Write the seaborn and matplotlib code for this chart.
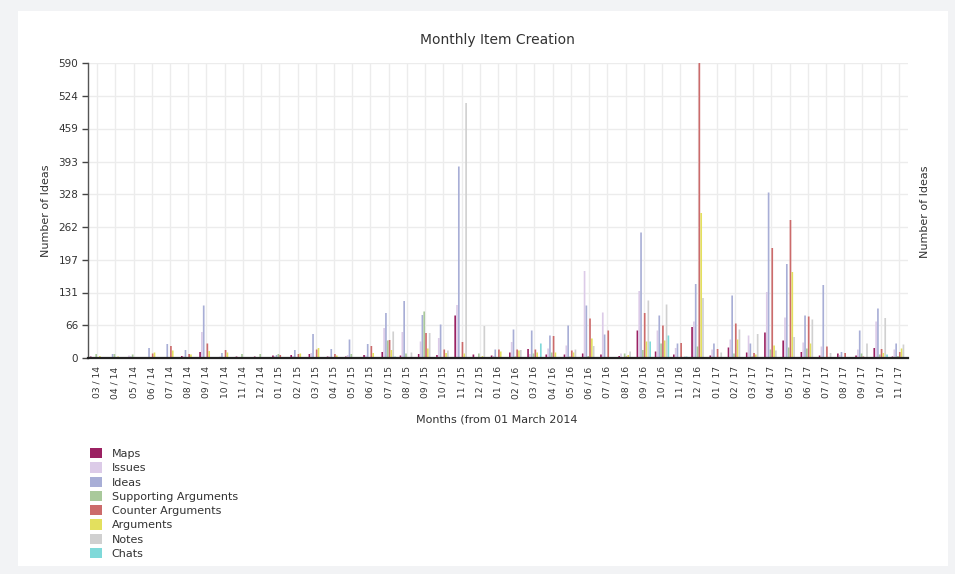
import matplotlib
matplotlib.use("Agg")
import matplotlib.pyplot as plt
from matplotlib.patches import Rectangle, Patch
import numpy as np
import pandas as pd
import seaborn as sns

months = ['03 / 14', '04 / 14', '05 / 14', '06 / 14', '07 / 14', '08 / 14', '09 / 14', '10 / 14',
          '11 / 14', '12 / 14', '01 / 15', '02 / 15', '03 / 15', '04 / 15', '05 / 15', '06 / 15',
          '07 / 15', '08 / 15', '09 / 15', '10 / 15', '11 / 15', '12 / 15', '01 / 16', '02 / 16',
          '03 / 16', '04 / 16', '05 / 16', '06 / 16', '07 / 16', '08 / 16', '09 / 16', '10 / 16',
          '11 / 16', '12 / 16', '01 / 17', '02 / 17', '03 / 17', '04 / 17', '05 / 17', '06 / 17',
          '07 / 17', '08 / 17', '09 / 17', '10 / 17', '11 / 17']

maps = [3, 2, 2, 2, 2, 4, 12, 2, 3, 3, 5, 6, 8, 3, 3, 6, 12, 5, 8, 6, 85, 7, 5, 11, 18, 7, 7, 9, 7,
        4, 55, 13, 7, 62, 5, 21, 11, 51, 35, 12, 5, 9, 5, 20, 3]
issues = [1, 2, 5, 1, 2, 3, 52, 3, 0, 0, 4, 4, 10, 3, 6, 5, 60, 52, 33, 40, 106, 2, 4, 32, 8, 19,
          25, 174, 91, 9, 134, 55, 20, 73, 17, 37, 45, 132, 81, 31, 23, 6, 17, 73, 17]
ideas = [2, 8, 3, 20, 28, 16, 105, 10, 1, 1, 6, 16, 48, 18, 37, 28, 90, 114, 86, 67, 383, 2, 17,
         57, 55, 45, 65, 105, 47, 2, 251, 85, 29, 148, 29, 125, 29, 331, 188, 85, 146, 12, 55, 99, 29]
supporting = [8, 8, 7, 0, 0, 0, 0, 0, 8, 8, 8, 0, 0, 0, 8, 0, 35, 9, 93, 0, 2, 9, 0, 3, 9, 11, 3,
              4, 0, 9, 16, 29, 2, 23, 0, 9, 3, 17, 21, 19, 2, 0, 9, 7, 4]
counter = [1, 1, 1, 9, 24, 8, 29, 16, 0, 0, 6, 8, 17, 8, 2, 24, 36, 2, 50, 17, 32, 1, 17, 17, 17,
           44, 15, 79, 55, 3, 90, 65, 30, 590, 18, 69, 10, 220, 276, 83, 23, 10, 3, 18, 12]
arguments = [4, 3, 1, 11, 15, 7, 14, 11, 0, 0, 2, 9, 20, 5, 2, 10, 16, 2, 19, 10, 9, 4, 13, 15, 11,
             11, 11, 39, 2, 6, 33, 35, 2, 290, 2, 37, 7, 25, 172, 29, 2, 2, 2, 10, 19]
notes = [0, 0, 0, 2, 2, 2, 2, 2, 0, 0, 2, 2, 2, 2, 2, 2, 53, 11, 50, 15, 510, 64, 2, 16, 2, 2, 17,
         24, 2, 13, 115, 107, 3, 120, 11, 57, 48, 15, 42, 77, 10, 2, 29, 80, 27]
chats = [1, 2, 2, 2, 2, 2, 2, 2, 2, 2, 2, 2, 2, 2, 2, 2, 3, 2, 2, 2, 2, 2, 2, 2, 29, 2, 1, 2, 2, 2,
         33, 45, 3, 2, 2, 2, 2, 2, 2, 2, 2, 2, 2, 7, 2]

series_names = ['Maps', 'Issues', 'Ideas', 'Supporting Arguments', 'Counter Arguments',
                'Arguments', 'Notes', 'Chats']
series_values = [maps, issues, ideas, supporting, counter, arguments, notes, chats]
colors = ['#9b2162', '#dccbe8', '#a8aed6', '#a9c99b', '#cc6b6b', '#e3e05e', '#d0d0d0', '#7fd9d9']
y_ticks = [0, 66, 131, 197, 262, 328, 393, 459, 524, 590]

rows = []
for name, vals in zip(series_names, series_values):
    for m, v in zip(months, vals):
        rows.append({'month': m, 'series': name, 'count': v})
df = pd.DataFrame(rows)

sns.set_style('whitegrid')
plt.rcParams['font.family'] = ['DejaVu Sans']

W, H = 955, 574
fig = plt.figure(figsize=(W / 100, H / 100), dpi=100, facecolor='#f2f3f5')
# white card behind everything
fig.patches.append(Rectangle((18 / W, 1 - 566 / H), 930 / W, 555 / H, transform=fig.transFigure,
                             facecolor='white', edgecolor='none', zorder=-10))

ax = fig.add_axes([88 / W, 1 - 358 / H, 820 / W, 295 / H])
ax.set_zorder(2)
ax.set_facecolor('white')
sns.barplot(data=df, x='month', y='count', hue='series', order=months, hue_order=series_names,
            palette=colors, width=0.8, gap=0.08, errorbar=None, linewidth=0, legend=False,
            saturation=1, ax=ax)
for bar in ax.patches:
    bar.set_snap(False)
    bar.set_edgecolor('none')

ax.set_xlim(-0.5, len(months) - 0.5)
ax.set_ylim(0, 590)
ax.set_yticks(y_ticks)
ax.set_yticklabels([str(t) for t in y_ticks], fontsize=7.5, color='#333333')
ax.set_xticks(range(len(months)))
ax.set_xticklabels(months, rotation=90, fontsize=6.6, color='#333333')
ax.tick_params(axis='x', length=0, pad=6)
ax.tick_params(axis='y', length=4, width=1, color='#444444', left=True, pad=3)
ax.grid(True, color='#ececec', linewidth=1)
ax.set_axisbelow(True)
for s in ['top', 'right']:
    ax.spines[s].set_visible(False)
ax.spines['left'].set_color('#555555')
ax.spines['left'].set_linewidth(1)
ax.spines['bottom'].set_color('#222222')
ax.spines['bottom'].set_linewidth(1.6)
ax.spines['bottom'].set_zorder(5)

ax.set_xlabel('')
ax.set_ylabel('Number of Ideas', fontsize=8, color='#333333', labelpad=5)
fig.text(925 / W, 1 - 212 / H, 'Number of Ideas', rotation=90, fontsize=8, color='#333333',
         ha='center', va='center')
fig.text(497 / W, 1 - 420 / H, 'Months (from 01 March 2014', fontsize=8, color='#333333',
         ha='center', va='center')
fig.text(497 / W, 1 - 40 / H, 'Monthly Item Creation', fontsize=10, color='#333333',
         ha='center', va='center')

handles = [Patch(facecolor=c, edgecolor='none', label=n) for c, n in zip(colors, series_names)]
fig.legend(handles=handles, loc='upper left', bbox_to_anchor=(90 / W, 1 - 448 / H),
           frameon=False, fontsize=8, handlelength=1.05, handleheight=1.05, labelspacing=0.3,
           handletextpad=0.9, borderaxespad=0, borderpad=0, labelcolor='#333333')

fig.savefig('out.png', dpi=100, facecolor=fig.get_facecolor())
